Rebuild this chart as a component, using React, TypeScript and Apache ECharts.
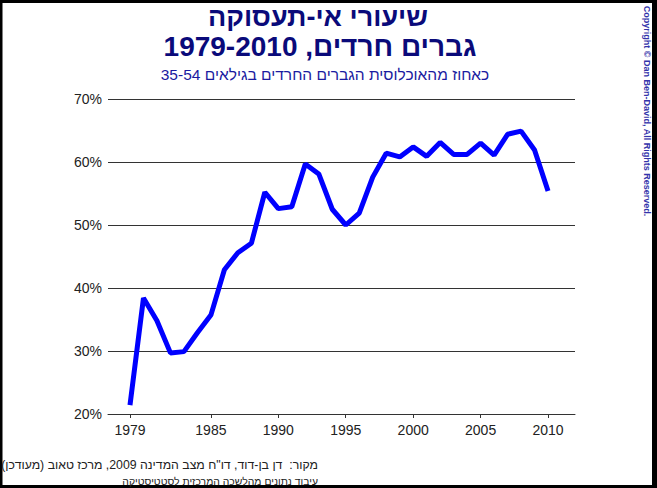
import React, { useEffect, useRef } from "react";
import * as echarts from "echarts";

const years = [1979, 1980, 1981, 1982, 1983, 1984, 1985, 1986, 1987, 1988, 1989, 1990, 1991, 1992, 1993, 1994, 1995, 1996, 1997, 1998, 1999, 2000, 2001, 2002, 2003, 2004, 2005, 2006, 2007, 2008, 2009, 2010];
const unemployment = [21.4, 38.4, 34.8, 29.7, 29.9, 32.9, 35.7, 42.9, 45.6, 47.1, 55.2, 52.6, 52.9, 59.7, 58.1, 52.5, 50.0, 51.9, 57.6, 61.4, 60.8, 62.4, 60.9, 63.1, 61.2, 61.2, 63.0, 61.1, 64.4, 64.9, 61.9, 55.4];
const xTickLabels = [1979, 1985, 1990, 1995, 2000, 2005, 2010];

const titleLine1 = "שיעורי אי-תעסוקה";
const titleLine2 = "גברים חרדים, 1979-2010";
const subtitle = "כאחוז מהאוכלוסית הגברים החרדים בגילאים 35-54";
const sourceLine1 = "מקור:  דן בן-דוד, דו\"ח מצב המדינה 2009, מרכז טאוב (מעודכן)";
const sourceLine2 = "עיבוד נתונים מהלשכה המרכזית לסטטיסטיקה";
const copyright = "Copyright © Dan Ben-David, All Rights Reserved.";

const rtl = (s: string) => "\u202B" + s + "\u202C";
const FONT = "'Liberation Sans', Arial, sans-serif";

export default function App() {
  const ref = useRef<HTMLDivElement>(null);
  useEffect(() => {
    document.body.style.margin = "0";
    if (!ref.current) return;
    const chart = echarts.init(ref.current, null, { renderer: "svg" });
    chart.setOption({
      animation: false,
      backgroundColor: "#ffffff",
      grid: { left: 108, right: 82, top: 99, bottom: 74 },
      xAxis: {
        type: "value",
        min: 1977.37,
        max: 2012,
        axisLine: { show: true, lineStyle: { color: "#333", width: 1 } },
        axisTick: { show: true, customValues: xTickLabels, length: 4, lineStyle: { color: "#333" } },
        axisLabel: {
          customValues: xTickLabels,
          formatter: (v: number) => String(v),
          color: "#222",
          fontSize: 14,
          fontFamily: FONT,
          margin: 9,
        },
        splitLine: { show: false },
      },
      yAxis: {
        type: "value",
        min: 20,
        max: 70,
        interval: 10,
        axisLine: { show: false },
        axisTick: { show: false },
        axisLabel: { formatter: "{value}%", color: "#222", fontSize: 14, fontFamily: FONT, margin: 6 },
        splitLine: { show: true, lineStyle: { color: "#333", width: 1 } },
      },
      series: [
        {
          type: "line",
          data: years.map((y, i) => [y, unemployment[i]]),
          showSymbol: false,
          lineStyle: { color: "#0000ff", width: 5 },
          z: 5,
        },
      ],
      graphic: [
        {
          type: "rect",
          shape: { x: 1, y: 1.5, width: 653, height: 485 },
          style: { fill: "none", stroke: "#000", lineWidth: 3 },
          silent: true,
        },
        {
          type: "rect",
          shape: { x: 652, y: 0, width: 5, height: 488 },
          style: { fill: "#000" },
          silent: true,
        },
        {
          type: "text",
          x: 318,
          y: 17,
          style: { text: rtl(titleLine1), font: `bold 27px ${FONT}`, fill: "#0a0a7a", textAlign: "center", textVerticalAlign: "middle" },
        },
        {
          type: "text",
          x: 320,
          y: 46,
          style: { text: rtl(titleLine2), font: `bold 28px ${FONT}`, fill: "#0a0a7a", textAlign: "center", textVerticalAlign: "middle" },
        },
        {
          type: "text",
          x: 325,
          y: 74,
          style: { text: rtl(subtitle), font: `15.5px ${FONT}`, fill: "#1a1aa0", textAlign: "center", textVerticalAlign: "middle" },
        },
        {
          type: "text",
          x: 318,
          y: 465,
          style: { text: rtl(sourceLine1), font: `12.3px ${FONT}`, fill: "#222", textAlign: "right", textVerticalAlign: "middle" },
        },
        {
          type: "text",
          x: 318,
          y: 481,
          style: { text: rtl(sourceLine2), font: `10.4px ${FONT}`, fill: "#222", textAlign: "right", textVerticalAlign: "middle" },
        },
        {
          type: "text",
          x: 647,
          y: 111,
          rotation: -Math.PI / 2,
          style: { text: copyright, font: `bold 9px ${FONT}`, fill: "#3333aa", textAlign: "center", textVerticalAlign: "middle" },
        },
      ],
    });
    return () => chart.dispose();
  }, []);
  return <div ref={ref} style={{ width: 657, height: 488 }} />;
}
